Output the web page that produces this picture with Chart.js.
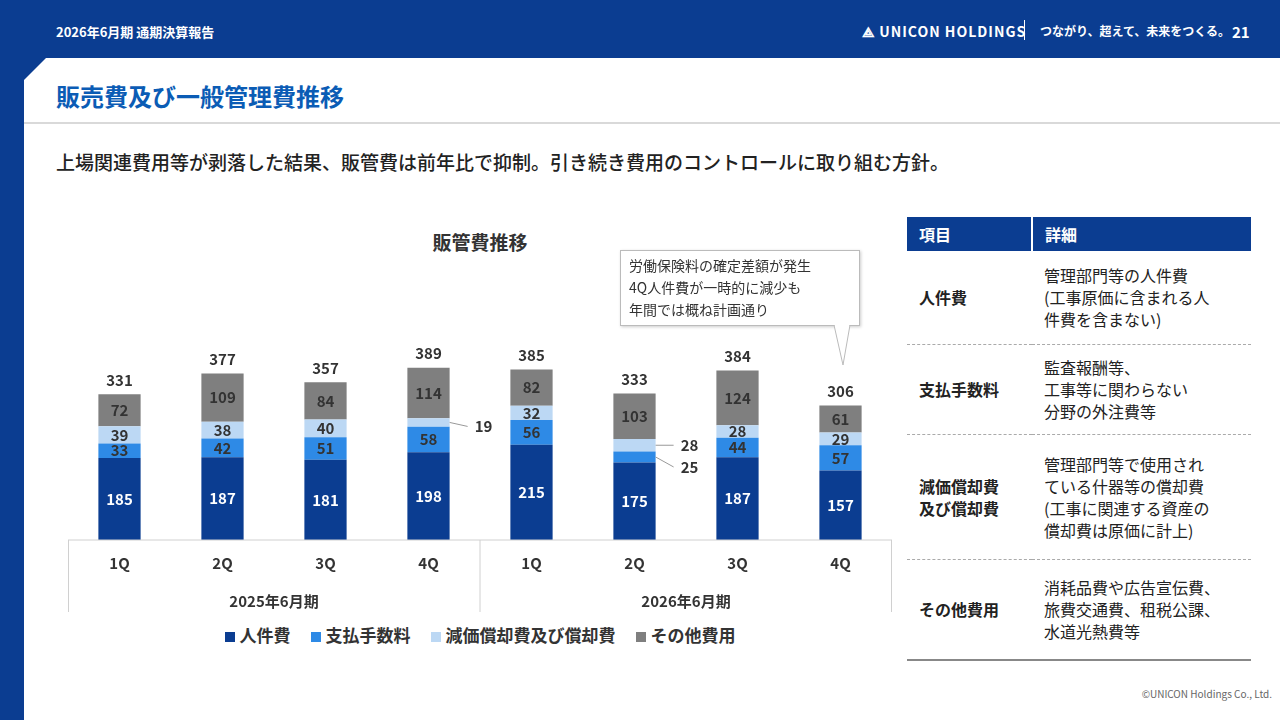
<!DOCTYPE html>
<html><head><meta charset="utf-8">
<script src="https://cdn.jsdelivr.net/npm/chart.js@4/dist/chart.umd.min.js"></script>
<style>
body{margin:0;width:1280px;height:720px;background:#0b3d91;font-family:"Noto Sans CJK JP","Noto Sans",sans-serif;position:relative;overflow:hidden}
.abs{position:absolute}
#panel{left:24px;top:58px;width:1256px;height:662px;background:#fff;clip-path:polygon(22px 0,100% 0,100% 100%,0 100%,0 22px)}
.hdr{color:#fff;font-weight:bold;font-size:13px}
#title{left:56px;top:78px;font-size:24px;font-weight:bold;color:#0b5cb5}
#rule{left:24px;top:122px;width:1256px;height:2px;background:#d9d9d9}
#sub{left:56px;top:148px;font-size:19px;color:#222;font-weight:500}
#ctitle{left:68px;width:824px;top:228px;text-align:center;font-size:19px;font-weight:bold;color:#333}
#legend{left:68px;width:824px;top:622px;text-align:center;font-size:17px;font-weight:bold;color:#333}
#legend span{margin:0 10px}
#legend i{display:inline-block;width:10px;height:10px;margin-right:5px}
#note{left:620px;top:250px;width:240px;height:76px;border:1px solid #bbb;background:#fff;font-size:14px;color:#333;line-height:22px;padding:3px 0 0 8px;box-sizing:border-box;box-shadow:1px 1px 3px #ccc}
table{border-collapse:collapse;font-size:16px;color:#222}
td,th{padding:0 0 0 12px;text-align:left}
th{background:#0b3d91;color:#fff;height:34px;font-weight:bold}
td{border-bottom:1px dashed #aaa;line-height:22px}
</style></head><body>
<div class="abs hdr" style="left:56px;top:22px">2026年6月期 通期決算報告</div>
<div class="abs hdr" style="left:862px;top:21px;font-size:14px;letter-spacing:1px">⟁ UNICON HOLDINGS</div>
<div class="abs" style="left:1024px;top:20px;width:1px;height:20px;background:#fff"></div>
<div class="abs hdr" style="left:1040px;top:22px;font-size:12px">つながり、超えて、未来をつくる。</div>
<div class="abs hdr" style="left:1232px;top:21px;font-size:15px">21</div>
<div id="panel" class="abs"></div>
<div id="title" class="abs">販売費及び一般管理費推移</div>
<div id="rule" class="abs"></div>
<div id="sub" class="abs">上場関連費用等が剥落した結果、販管費は前年比で抑制。引き続き費用のコントロールに取り組む方針。</div>
<div id="ctitle" class="abs">販管費推移</div>
<div class="abs" style="left:68px;top:300px;width:824px;height:312px"><canvas id="c"></canvas></div>
<div id="note" class="abs">労働保険料の確定差額が発生<br>4Q人件費が一時的に減少も<br>年間では概ね計画通り</div>
<svg class="abs" style="left:830px;top:325px" width="30" height="42"><polygon points="4,0 20,0 13,40" fill="#fff" stroke="#bbb"/><rect x="5" y="-2" width="14" height="3" fill="#fff"/></svg>
<div id="legend" class="abs"><span><i style="background:#0b3d91"></i>人件費</span><span><i style="background:#2e8ae6"></i>支払手数料</span><span><i style="background:#bcd8f4"></i>減価償却費及び償却費</span><span><i style="background:#7f7f7f"></i>その他費用</span></div>
<table class="abs" style="left:907px;top:217px;width:344px">
<tr><th style="width:112px;border-right:2px solid #fff">項目</th><th>詳細</th></tr>
<tr style="height:93px"><td style="font-weight:bold">人件費</td><td>管理部門等の人件費<br>(工事原価に含まれる人<br>件費を含まない)</td></tr>
<tr style="height:90px"><td style="font-weight:bold">支払手数料</td><td>監査報酬等、<br>工事等に関わらない<br>分野の外注費等</td></tr>
<tr style="height:125px"><td style="font-weight:bold">減価償却費<br>及び償却費</td><td>管理部門等で使用され<br>ている什器等の償却費<br>(工事に関連する資産の<br>償却費は原価に計上)</td></tr>
<tr style="height:101px"><td style="font-weight:bold;border-bottom:2px solid #888">その他費用</td><td style="border-bottom:2px solid #888">消耗品費や広告宣伝費、<br>旅費交通費、租税公課、<br>水道光熱費等</td></tr>
</table>
<div class="abs" style="right:8px;top:686px;font-size:10px;color:#666">©UNICON Holdings Co., Ltd.</div>
<script>
const quarters = ['1Q','2Q','3Q','4Q','1Q','2Q','3Q','4Q'];
const periods = ['2025年6月期','2026年6月期'];
const personnel = [185,187,181,198,215,175,187,157];
const fees = [33,42,51,58,56,25,44,57];
const depreciation = [39,38,40,19,32,28,28,29];
const other = [72,109,84,114,82,103,124,61];
const totals = [331,377,357,389,385,333,384,306];
// segments labelled outside the bar: [dataset, index]
const outside = [[2,3],[2,5],[1,5]];

const labelPlugin = {
  id:'labels',
  afterDatasetsDraw(chart){
    const ctx = chart.ctx, a = chart.chartArea, x = chart.scales.x;
    ctx.save();
    ctx.textAlign='center'; ctx.textBaseline='middle';
    ctx.font='bold 15px "Noto Sans CJK JP"';
    chart.data.datasets.forEach((ds,di)=>{
      chart.getDatasetMeta(di).data.forEach((bar,i)=>{
        const v = ds.data[i];
        const cy = (bar.y+bar.base)/2;
        if (outside.some(o=>o[0]===di&&o[1]===i)) {
          ctx.fillStyle='#333'; ctx.strokeStyle='#999'; ctx.lineWidth=1;
          const ty = di===2 ? (i===3 ? cy+4 : cy) : cy+10;
          const ex = bar.x+bar.width/2;
          ctx.beginPath(); ctx.moveTo(ex,cy); ctx.lineTo(ex+18,ty); ctx.stroke();
          ctx.fillText(v, ex+34, ty);
          return;
        }
        ctx.fillStyle = di===0 ? '#fff' : '#333';
        ctx.fillText(v, bar.x, cy);
      });
    });
    chart.getDatasetMeta(3).data.forEach((bar,i)=>{
      ctx.fillStyle='#333'; ctx.fillText(totals[i], bar.x, bar.y-14);
    });
    ctx.strokeStyle='#d0d0d0'; ctx.lineWidth=1;
    ctx.beginPath();
    ctx.moveTo(a.left,a.bottom); ctx.lineTo(a.right,a.bottom);
    const mid = (x.getPixelForValue(3)+x.getPixelForValue(4))/2;
    [a.left+0.5, mid, a.right-0.5].forEach(px=>{ctx.moveTo(px,a.bottom);ctx.lineTo(px,a.bottom+72);});
    ctx.stroke();
    ctx.fillStyle='#333';
    ctx.fillText(periods[0], (a.left+mid)/2, a.bottom+61);
    ctx.fillText(periods[1], (mid+a.right)/2, a.bottom+61);
    ctx.restore();
  }
};
const mk = (label,data,color)=>({label,data,backgroundColor:color,barPercentage:0.41,categoryPercentage:1});
new Chart(document.getElementById('c'),{
  type:'bar',
  data:{labels:quarters,datasets:[
    mk('人件費',personnel,'#0b3d91'),mk('支払手数料',fees,'#2e8ae6'),
    mk('減価償却費及び償却費',depreciation,'#bcd8f4'),mk('その他費用',other,'#7f7f7f')]},
  options:{responsive:true,maintainAspectRatio:false,animation:false,
    layout:{padding:0},
    plugins:{legend:{display:false},tooltip:{enabled:false}},
    scales:{
      x:{stacked:true,grid:{display:false},border:{display:false},
         ticks:{color:'#333',padding:6,font:{size:15,weight:'bold',family:'"Noto Sans CJK JP"'}},
         afterFit(s){s.height=72;}},
      y:{stacked:true,display:false,min:0,max:542}
    }},
  plugins:[labelPlugin]
});
</script>
</body></html>
